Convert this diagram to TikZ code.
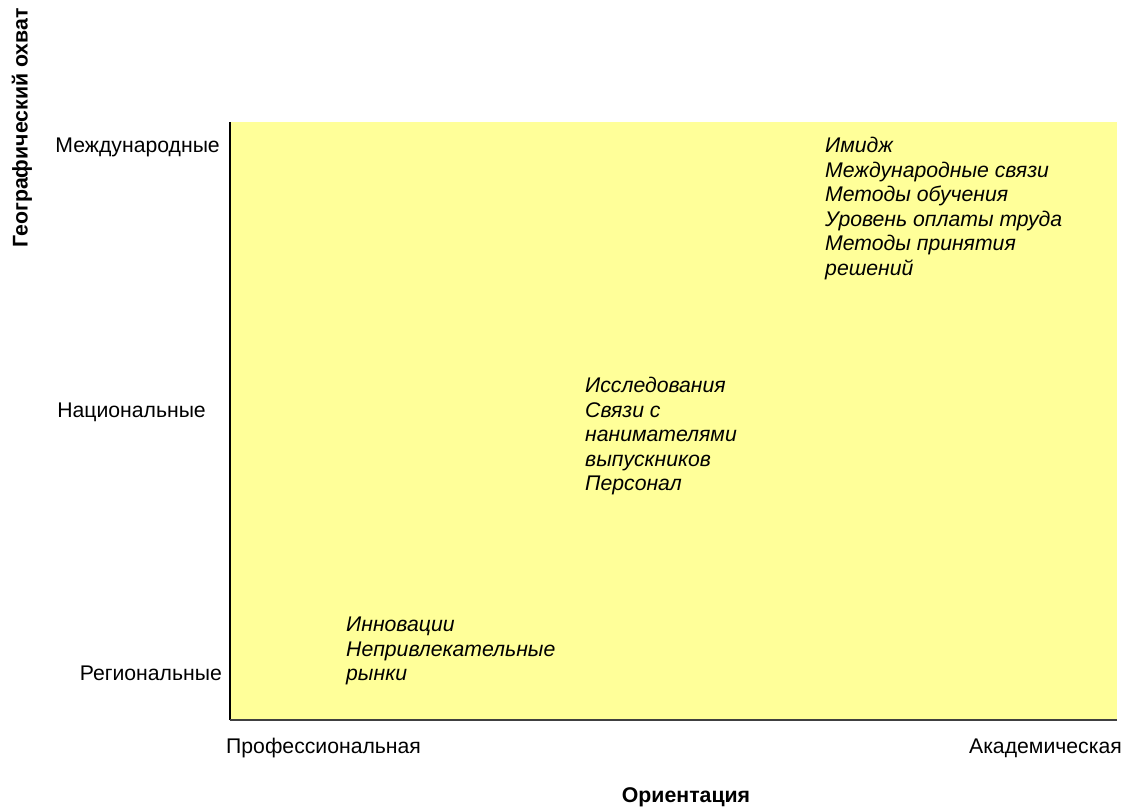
\documentclass[tikz,border=0pt]{standalone}
\usepackage{fontspec}
\setmainfont{Liberation Sans}
\usetikzlibrary{positioning}
\definecolor{fieldyellow}{HTML}{FFFF99}

\begin{document}
\begin{tikzpicture}
    [
        x=1pt, y=-1pt,
        every node/.style={font=\fontsize{21.2}{24.5}\selectfont, inner sep=0pt},
        level_label/.style={anchor=base east},
        item_list/.style={anchor=north west, align=left, font=\fontsize{21.2}{24.6}\selectfont\itshape},
        axis_title/.style={font=\fontsize{21.3}{24}\selectfont\bfseries},
    ]

  \useasboundingbox (0,0) rectangle (1131,806);

  % field and axes
  \fill[fieldyellow] (230,122) rectangle (1117,720);
  \coordinate (O) at (230,720);
  \coordinate (T) at (230,122);
  \coordinate (R) at (1117,720);
  \draw[line width=2pt, black] (O) -- (T);
  \draw[line width=1.5pt, black!75] (O) -- (R);

  % level labels
  \node[level_label] (intl) at (220,152) {Международные};
  \node[level_label] (natl) at (206,417) {Национальные};
  \node[level_label] (regl) at (222,680) {Региональные};
  \node[anchor=base west] (prof) at (226,753) {Профессиональная};
  \node[anchor=base east] (acad) at (1122,753) {Академическая};

  % axis titles
  \node[axis_title, anchor=base] (orient) at (686,802) {Ориентация};
  \node[axis_title, rotate=90] (geo) at (22,128) {Географический охват};

  % factors
  \node[item_list] (top) at (825,137) {Имидж\\Международные связи\\Методы обучения\\Уровень оплаты труда\\Методы принятия\\решений};
  \node[item_list] (mid) at (585,377) {Исследования\\Связи с\\нанимателями\\выпускников\\Персонал};
  \node[item_list] (low) at (346,617) {Инновации\\Непривлекательные\\рынки};
\end{tikzpicture}
\end{document}
